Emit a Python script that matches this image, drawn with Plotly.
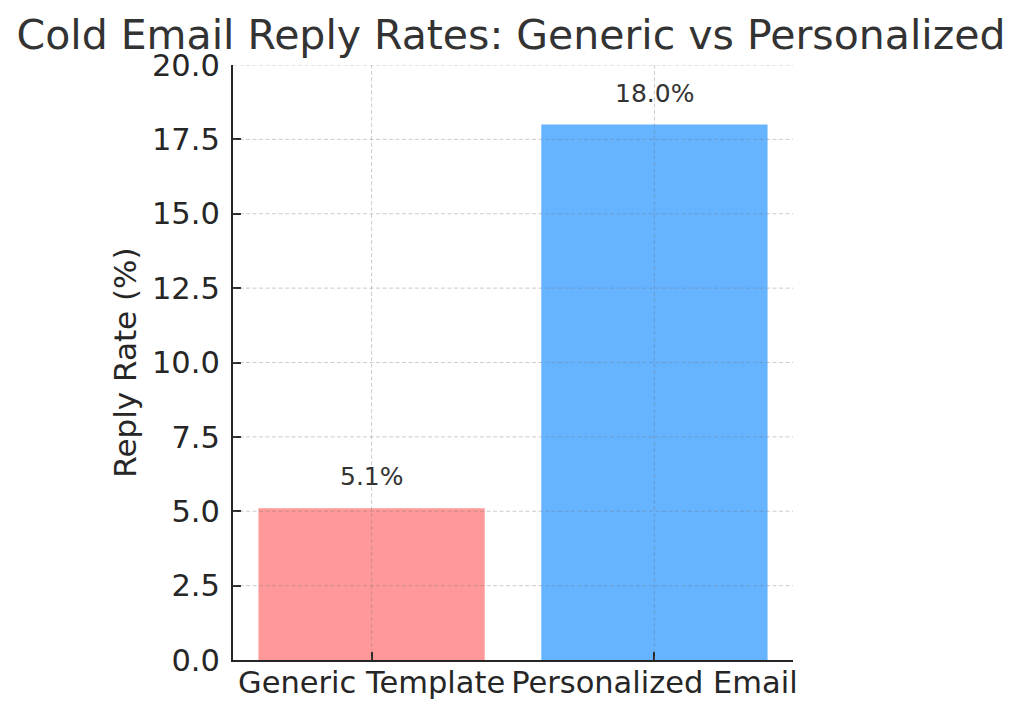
import plotly.graph_objects as go

categories = ["Generic Template", "Personalized Email"]
reply_rates = [5.1, 18.0]
bar_colors = ["#ff9999", "#66b3ff"]
y_ticks = [0, 2.5, 5, 7.5, 10, 12.5, 15, 17.5, 20]

x_pos = list(range(len(categories)))

fig = go.Figure()
fig.add_trace(go.Bar(
    x=x_pos, y=reply_rates, width=0.8,
    marker=dict(color=bar_colors, line=dict(width=0)),
    hoverinfo="skip", showlegend=False,
))

grid_color = "rgba(120,120,120,0.38)"
for t in y_ticks[1:]:
    fig.add_shape(type="line", xref="x domain", yref="y", x0=0, x1=1, y0=t, y1=t,
                  line=dict(color=grid_color, width=1, dash="4px,2.5px"), layer="above")
for xp in x_pos:
    fig.add_shape(type="line", xref="x", yref="y domain", x0=xp, x1=xp, y0=0, y1=1,
                  line=dict(color=grid_color, width=1, dash="4px,2.5px"), layer="above")

for xp, v in zip(x_pos, reply_rates):
    fig.add_annotation(x=xp, y=v + 0.5, text=f"{v:.1f}%", showarrow=False,
                       yanchor="bottom", xanchor="center",
                       font=dict(family="DejaVu Sans", size=25, color="#333333"))

fig.update_layout(
    width=1024, height=718,
    paper_bgcolor="white", plot_bgcolor="white",
    margin=dict(l=225, r=239, t=57, b=66),
    font=dict(family="DejaVu Sans", color="#262626"),
    title=dict(text="Cold Email Reply Rates: Generic vs Personalized",
               x=503 / 1024, xref="container", xanchor="center",
               y=1 - 27 / 718, yref="container", yanchor="middle",
               font=dict(family="DejaVu Sans", size=41, color="#333333")),
    bargap=0.2,
)
fig.update_xaxes(
    range=[-0.49, 1.49], tickvals=x_pos, ticktext=categories,
    showgrid=False, zeroline=False,
    showline=True, linecolor="#262626", linewidth=2,
    ticks="inside", ticklen=8, tickwidth=1.5, tickcolor="#262626",
    tickfont=dict(family="DejaVu Sans", size=30.5, color="#262626"),
    ticklabelstandoff=-6,
)
fig.update_yaxes(
    range=[0, 20], tickvals=y_ticks, tickformat=".1f",
    showgrid=False, zeroline=False,
    showline=True, linecolor="#262626", linewidth=2,
    ticks="inside", ticklen=8, tickwidth=1.5, tickcolor="#262626",
    tickfont=dict(family="DejaVu Sans", size=30.5, color="#262626"),
    ticklabelstandoff=5,
    title=dict(text="Reply Rate (%)", standoff=6,
               font=dict(family="DejaVu Sans", size=31, color="#262626")),
)

fig.write_html("out.html")
